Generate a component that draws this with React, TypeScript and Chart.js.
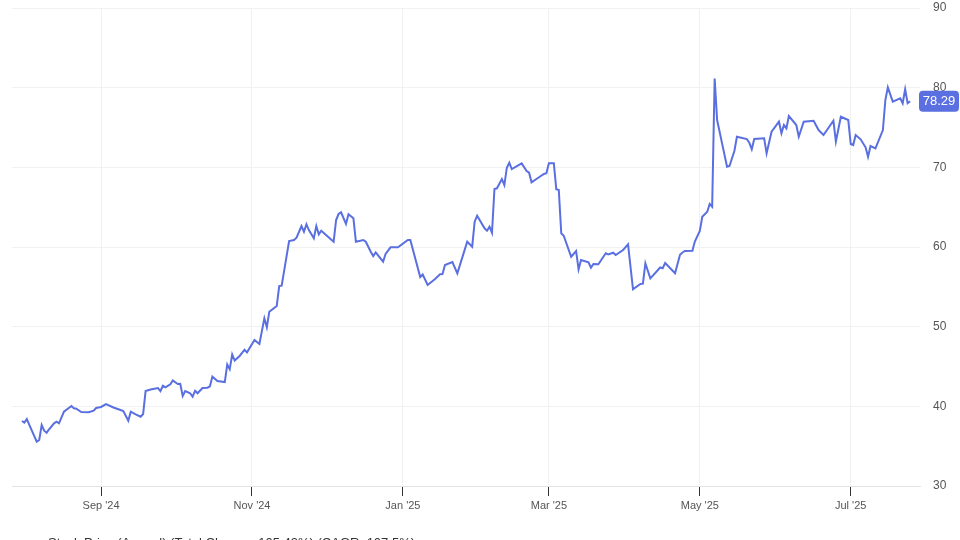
import React, { useEffect, useRef } from "react";
import { Chart, registerables } from "chart.js";

Chart.register(...registerables);

const DATES = [
  "2024-07-31","2024-08-01","2024-08-02","2024-08-03","2024-08-06","2024-08-07","2024-08-08","2024-08-09","2024-08-10","2024-08-11",
  "2024-08-13","2024-08-14","2024-08-15","2024-08-17","2024-08-20","2024-08-21","2024-08-22","2024-08-24","2024-08-27","2024-08-29",
  "2024-08-30","2024-09-01","2024-09-03","2024-09-06","2024-09-08","2024-09-10","2024-09-12","2024-09-13","2024-09-15","2024-09-17",
  "2024-09-18","2024-09-19","2024-09-21","2024-09-24","2024-09-25","2024-09-26","2024-09-27","2024-09-29","2024-09-30","2024-10-02",
  "2024-10-03","2024-10-04","2024-10-05","2024-10-07","2024-10-08","2024-10-09","2024-10-10","2024-10-12","2024-10-14","2024-10-15",
  "2024-10-16","2024-10-18","2024-10-21","2024-10-22","2024-10-23","2024-10-24","2024-10-25","2024-10-27","2024-10-29","2024-10-30",
  "2024-11-02","2024-11-04","2024-11-06","2024-11-07","2024-11-08","2024-11-11","2024-11-12","2024-11-13","2024-11-16","2024-11-18",
  "2024-11-19","2024-11-21","2024-11-22","2024-11-23","2024-11-24","2024-11-26","2024-11-27","2024-11-28","2024-11-29","2024-12-04",
  "2024-12-05","2024-12-06","2024-12-07","2024-12-09","2024-12-10","2024-12-12","2024-12-13","2024-12-16","2024-12-17","2024-12-19",
  "2024-12-20","2024-12-21","2024-12-24","2024-12-25","2024-12-27","2024-12-30","2025-01-03","2025-01-04","2025-01-08","2025-01-09",
  "2025-01-11","2025-01-14","2025-01-16","2025-01-17","2025-01-18","2025-01-21","2025-01-23","2025-01-27","2025-01-29","2025-01-30",
  "2025-01-31","2025-02-03","2025-02-04","2025-02-05","2025-02-06","2025-02-07","2025-02-08","2025-02-10","2025-02-11","2025-02-12",
  "2025-02-13","2025-02-14","2025-02-18","2025-02-20","2025-02-21","2025-02-22","2025-02-25","2025-02-27","2025-02-28","2025-03-01",
  "2025-03-03","2025-03-04","2025-03-05","2025-03-06","2025-03-07","2025-03-10","2025-03-12","2025-03-13","2025-03-14","2025-03-17",
  "2025-03-18","2025-03-19","2025-03-21","2025-03-24","2025-03-25","2025-03-27","2025-03-28","2025-03-31","2025-04-02","2025-04-04",
  "2025-04-07","2025-04-08","2025-04-09","2025-04-11","2025-04-15","2025-04-16","2025-04-17","2025-04-21","2025-04-23","2025-04-24",
  "2025-04-25","2025-04-28","2025-04-29","2025-05-01","2025-05-02","2025-05-04","2025-05-05","2025-05-06","2025-05-07","2025-05-08",
  "2025-05-10","2025-05-12","2025-05-13","2025-05-15","2025-05-16","2025-05-20","2025-05-21","2025-05-22","2025-05-23","2025-05-27",
  "2025-05-28","2025-05-30","2025-06-02","2025-06-03","2025-06-04","2025-06-05","2025-06-06","2025-06-09","2025-06-10","2025-06-12",
  "2025-06-16","2025-06-18","2025-06-20","2025-06-24","2025-06-25","2025-06-27","2025-06-30","2025-07-01","2025-07-02","2025-07-03",
  "2025-07-05","2025-07-07","2025-07-08","2025-07-09","2025-07-11","2025-07-14","2025-07-15","2025-07-16","2025-07-18","2025-07-21",
  "2025-07-22","2025-07-23","2025-07-24","2025-07-25"
];

const PRICES = [
  38.16,37.95,38.41,37.66,35.56,35.77,37.66,36.94,36.69,37.12,
  37.87,38.07,37.87,39.33,40.04,39.75,39.70,39.29,39.25,39.45,
  39.79,39.92,40.29,39.85,39.63,39.41,38.20,39.33,39.00,38.70,
  39.04,41.92,42.11,42.30,41.92,42.58,42.39,42.77,43.24,42.80,
  42.83,41.30,41.92,41.64,41.21,41.96,41.64,42.30,42.34,42.51,
  43.74,43.18,43.05,45.25,44.66,46.51,45.75,46.32,47.11,46.78,
  48.33,47.82,51.05,49.92,51.88,52.59,55.10,55.15,60.75,60.88,
  61.17,62.63,61.92,62.85,62.13,61.09,62.63,61.59,62.05,60.66,
  63.39,64.14,64.35,62.89,64.10,63.60,60.66,60.88,60.66,59.41,
  58.87,59.33,58.15,59.12,59.96,59.96,60.88,60.88,56.23,56.55,
  55.23,55.98,56.58,56.61,57.74,58.12,56.70,60.66,60.04,63.17,
  63.93,62.35,62.05,62.55,61.79,67.28,67.37,68.53,67.78,69.95,
  70.58,69.79,70.50,69.54,69.33,68.12,68.75,69.16,69.25,70.50,
  70.50,67.24,67.15,61.72,61.42,58.78,59.50,57.20,58.37,58.08,
  57.40,57.87,57.83,59.21,59.08,59.28,58.99,59.62,60.34,54.69,
  55.35,55.40,57.95,56.07,57.43,57.33,57.99,56.70,59.03,59.31,
  59.50,59.52,60.69,62.01,63.80,64.43,65.40,65.06,81.15,75.94,
  73.01,70.08,70.17,72.09,73.84,73.55,73.09,72.26,73.55,73.64,
  71.76,74.47,75.73,74.27,75.31,74.90,76.44,75.31,73.84,75.73,
  75.85,74.68,74.06,75.85,73.22,76.35,75.94,72.93,72.80,74.06,
  73.52,72.51,71.33,72.68,72.39,74.68,78.45,80.04,78.24,78.66,
  78.04,79.79,78.04,78.29
];

const TICK_DATES = ["2024-09-01", "2024-11-01", "2025-01-01", "2025-03-01", "2025-05-01", "2025-07-01"];
const TICK_LABELS = ["Sep '24", "Nov '24", "Jan '25", "Mar '25", "May '25", "Jul '25"];
const X_MIN_DATE = "2024-07-27";
const X_MAX_DATE = "2025-07-29";
const Y_MIN = 30;
const Y_MAX = 90;
const Y_STEP = 10;
const LAST_LABEL = "78.29";
const LEGEND_LABEL = "Stock Price (Annual) (Total Change: 105.43%) (CAGR: 107.5%)";

const LINE_COLOR = "#5a6fe0";
const FONT = "'Liberation Sans', Arial, Helvetica, sans-serif";

const toMs = (s: string) => Date.parse(s + "T00:00:00Z");

const badgePlugin = {
  id: "lastBadge",
  afterDraw(chart: any) {
    const ctx = chart.ctx;
    const ys = chart.scales.y;
    const area = chart.chartArea;
    const last = PRICES[PRICES.length - 1];
    const y = ys.getPixelForValue(last);
    const w = 40;
    const h = 21;
    const x = area.right - 1;
    ctx.save();
    ctx.fillStyle = LINE_COLOR;
    ctx.beginPath();
    (ctx as any).roundRect(x, y - h / 2, w, h, 4);
    ctx.fill();
    ctx.fillStyle = "#ffffff";
    ctx.font = "13px " + FONT;
    ctx.textAlign = "center";
    ctx.textBaseline = "middle";
    ctx.fillText(LAST_LABEL, x + w / 2, y + 0.5);
    ctx.restore();
  },
};

const legendPlugin = {
  id: "bottomLegendText",
  afterDraw(chart: any) {
    const ctx = chart.ctx;
    ctx.save();
    ctx.fillStyle = "#333333";
    ctx.font = "13px " + FONT;
    ctx.textAlign = "left";
    ctx.textBaseline = "top";
    ctx.fillText(LEGEND_LABEL, 48, 536.5);
    ctx.restore();
  },
};

export default function App() {
  const ref = useRef<HTMLCanvasElement | null>(null);

  useEffect(() => {
    if (!ref.current) return;
    const points = DATES.map((d, i) => ({ x: toMs(d), y: PRICES[i] }));
    const tickMs = TICK_DATES.map(toMs);

    const chart = new Chart(ref.current, {
      type: "line",
      data: {
        datasets: [
          {
            label: LEGEND_LABEL,
            data: points,
            borderColor: LINE_COLOR,
            backgroundColor: LINE_COLOR,
            borderWidth: 2,
            pointRadius: 0,
            pointHoverRadius: 0,
            tension: 0,
            fill: false,
          },
        ],
      },
      options: {
        responsive: false,
        animation: false,
        events: [],
        layout: { padding: { top: 8, left: 12, right: 0, bottom: 0 } },
        plugins: {
          legend: { display: false },
          tooltip: { enabled: false },
        },
        scales: {
          x: {
            type: "linear",
            min: toMs(X_MIN_DATE),
            max: toMs(X_MAX_DATE),
            afterBuildTicks(scale: any) {
              scale.ticks = tickMs.map((v) => ({ value: v }));
            },
            afterFit(scale: any) {
              scale.height = 54;
              scale.paddingLeft = 0;
              scale.paddingRight = 0;
            },
            ticks: {
              autoSkip: false,
              maxRotation: 0,
              padding: 3,
              color: "#555555",
              font: { family: FONT, size: 11 },
              callback(value: any) {
                const i = tickMs.indexOf(Number(value));
                return i >= 0 ? TICK_LABELS[i] : "";
              },
            },
            grid: {
              color: "#f1f1f1",
              lineWidth: 1,
              drawTicks: true,
              tickLength: 10,
              tickColor: "#333333",
              tickWidth: 1,
            },
            border: { display: true, color: "#e2e2e2", width: 1 },
          },
          y: {
            position: "right",
            min: Y_MIN,
            max: Y_MAX,
            afterFit(scale: any) {
              scale.width = 40;
              scale.paddingTop = 0;
              scale.paddingBottom = 0;
            },
            ticks: {
              stepSize: Y_STEP,
              padding: 13,
              color: "#555555",
              font: { family: FONT, size: 12 },
            },
            grid: {
              color: "#f1f1f1",
              lineWidth: 1,
              drawTicks: false,
            },
            border: { display: false },
          },
        },
      },
      plugins: [badgePlugin, legendPlugin],
    } as any);

    return () => chart.destroy();
  }, []);

  return (
    <div style={{ position: "absolute", left: 0, top: 0, width: 960, height: 540, overflow: "hidden", background: "#ffffff" }}>
      <canvas ref={ref} width={960} height={540} style={{ display: "block" }} />
    </div>
  );
}
